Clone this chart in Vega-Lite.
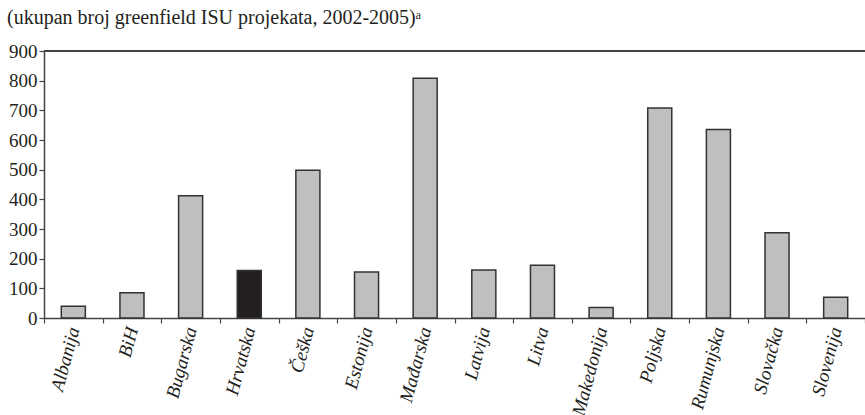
{
  "$schema": "https://vega.github.io/schema/vega-lite/v6.json",
  "width": 821,
  "height": 267,
  "autosize": "none",
  "padding": {"left": 44, "top": 51, "right": 0, "bottom": 97},
  "background": "white",
  "title": {
    "text": "(ukupan broj greenfield ISU projekata, 2002-2005)ᵃ",
    "anchor": "start",
    "frame": "group",
    "dx": -37,
    "offset": 14,
    "font": "'Liberation Serif', 'Times New Roman', serif",
    "fontSize": 20,
    "fontWeight": "normal",
    "color": "#231f20"
  },
  "config": {
    "font": "'Liberation Serif', 'Times New Roman', serif",
    "view": {"stroke": null},
    "axis": {
      "labelFont": "'Liberation Serif', 'Times New Roman', serif",
      "labelFontSize": 19,
      "labelColor": "#231f20",
      "labelOverlap": false,
      "labelFlush": false,
      "domainColor": "#444",
      "tickColor": "#444",
      "domainWidth": 1.5,
      "tickWidth": 1.2
    }
  },
  "data": {
    "values": [
      {"zemlja": "Albanija", "projekti": 40, "hr": false},
      {"zemlja": "BiH", "projekti": 85, "hr": false},
      {"zemlja": "Bugarska", "projekti": 412, "hr": false},
      {"zemlja": "Hrvatska", "projekti": 160, "hr": true},
      {"zemlja": "Češka", "projekti": 498, "hr": false},
      {"zemlja": "Estonija", "projekti": 155, "hr": false},
      {"zemlja": "Mađarska", "projekti": 808, "hr": false},
      {"zemlja": "Latvija", "projekti": 162, "hr": false},
      {"zemlja": "Litva", "projekti": 178, "hr": false},
      {"zemlja": "Makedonija", "projekti": 35, "hr": false},
      {"zemlja": "Poljska", "projekti": 708, "hr": false},
      {"zemlja": "Rumunjska", "projekti": 635, "hr": false},
      {"zemlja": "Slovačka", "projekti": 287, "hr": false},
      {"zemlja": "Slovenija", "projekti": 70, "hr": false}
    ]
  },
  "layer": [
    {
      "mark": {"type": "bar", "width": {"band": 0.41}, "stroke": "#333", "strokeWidth": 1.5},
      "encoding": {
        "x": {
          "field": "zemlja",
          "type": "nominal",
          "sort": null,
          "scale": {"paddingInner": 0, "paddingOuter": 0},
          "axis": {
            "title": null,
            "labelAngle": -75,
            "labelAlign": "right",
            "labelBaseline": "middle",
            "labelFontStyle": "italic",
            "labelPadding": 4,
            "tickBand": "extent",
            "tickSize": 5
          }
        },
        "y": {
          "field": "projekti",
          "type": "quantitative",
          "scale": {"domain": [0, 900], "nice": false},
          "axis": {"title": null, "values": [0,100,200,300,400,500,600,700,800,900], "tickCount": 10, "grid": false, "tickSize": 5, "labelPadding": 2}
        },
        "fill": {
          "field": "hr",
          "type": "nominal",
          "scale": {"domain": [false, true], "range": ["#bfbfbf", "#231f20"]},
          "legend": null
        }
      }
    },
    {
      "mark": {"type": "rule", "color": "#444", "strokeWidth": 1.5},
      "encoding": {"y": {"datum": 900, "type": "quantitative", "axis": {"title": null, "values": [0,100,200,300,400,500,600,700,800,900], "tickCount": 10, "grid": false, "tickSize": 5, "labelPadding": 2}}}
    }
  ]
}
